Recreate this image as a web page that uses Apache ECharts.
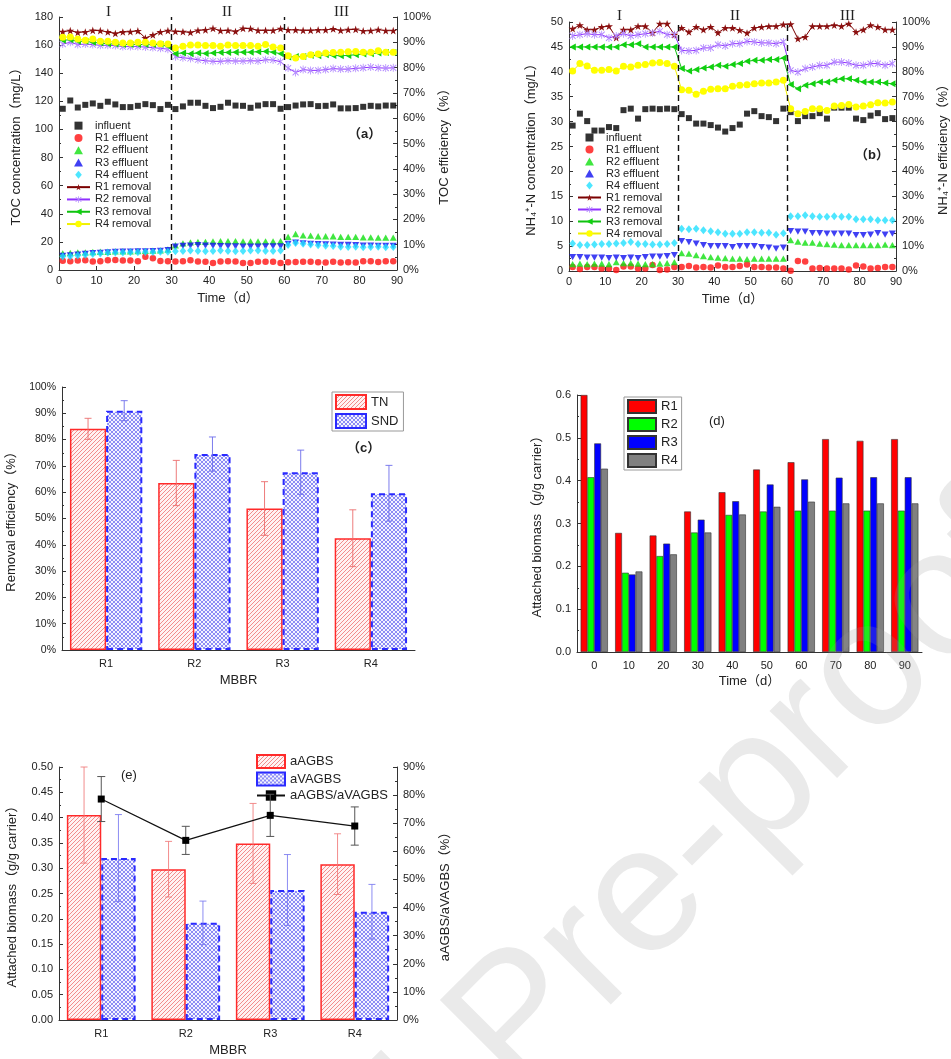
<!DOCTYPE html>
<html>
<head>
<meta charset="utf-8">
<script src="https://cdn.jsdelivr.net/npm/echarts@6/dist/echarts.min.js"></script>
<style>
  html, body { margin: 0; padding: 0; background: #fff; }
  #chart { width: 951px; height: 1059px; }
</style>
</head>
<body>
<div id="chart"></div>
<script>
// ---------- sampling days (panels a, b) ----------
const days = [1,3,5,7,9,11,13,15,17,19,21,23,25,27,29,31,33,35,37,39,41,43,45,47,49,51,53,55,57,59,61,63,65,67,69,71,73,75,77,79,81,83,85,87,89];

// ---------- (a) TOC, mg/L and % ----------
const tocInfluent = [114.7,120.6,115.6,117.5,118.5,116.8,119.7,117.8,115.9,115.9,116.8,118.0,117.3,114.5,117.5, 114.5,116.4,119.0,119.0,116.8,115.2,116.1,119.0,117.0,116.8,115.4,117.0,118.0,118.0,114.7, 115.9,117.0,117.8,118.0,116.6,116.8,117.8,115.0,115.0,115.2,116.1,116.8,116.4,117.0,117.0];
const tocR1Eff = [6.5,6.2,6.8,6.9,6.0,6.2,6.9,7.2,6.8,6.8,6.3,9.5,8.3,6.4,6.2, 6.0,6.2,6.9,6.0,5.9,4.9,6.0,6.3,6.0,5.0,5.0,5.8,5.9,5.8,5.0, 5.6,5.7,5.8,5.9,5.6,5.4,5.9,5.4,5.5,5.3,6.2,6.3,5.7,6.3,6.3];
const tocR2Eff = [11.8,12.2,12.6,12.6,12.8,13.0,13.0,13.2,13.3,13.3,13.5,13.6,13.8,14.0,14.6, 17.6,19.0,19.6,20.0,20.0,20.3,20.5,20.5,20.5,20.3,20.3,20.3,20.3,20.3,20.5, 23.6,25.6,24.6,24.5,24.0,24.0,24.0,23.6,23.6,23.5,23.2,23.2,23.0,23.0,23.0];
const tocR3Eff = [10.0,10.4,11.0,11.4,12.0,12.2,12.6,12.8,13.0,13.0,13.2,13.2,13.4,13.6,14.2, 16.6,17.2,17.4,17.6,17.4,17.2,17.0,16.8,16.8,16.6,16.6,16.6,16.8,16.8,16.8, 18.6,19.4,19.0,18.6,18.4,18.2,18.0,17.8,17.8,17.6,17.4,17.4,17.2,17.2,17.2];
const tocR4Eff = [9.6,9.8,10.4,10.8,11.4,11.8,12.2,12.4,12.4,12.6,12.6,12.8,12.8,13.0,13.0, 13.4,13.6,13.8,13.6,13.4,13.6,13.8,13.6,13.4,13.6,13.8,13.8,13.6,13.6,13.8, 17.8,19.2,18.6,18.2,17.6,17.2,17.0,16.6,16.4,16.6,16.2,16.4,16.6,16.2,16.4];
const tocR1Rem = [94.2,94.6,93.9,94.1,94.7,94.6,94.1,93.5,94.1,94.2,94.5,91.7,92.9,94.1,94.6, 94.3,94.2,93.9,94.7,94.9,95.5,94.6,94.7,94.3,95.5,95.4,94.7,94.7,94.7,95.4, 94.9,94.9,94.7,94.7,94.9,94.9,95.3,94.7,95.0,95.1,94.5,94.6,95.0,94.6,94.6];
const tocR2Rem = [89.3,90.0,89.1,89.3,89.1,88.8,88.8,88.7,88.3,88.3,88.3,88.1,87.9,87.6,87.3, 84.3,83.9,83.6,83.1,82.7,82.5,82.5,82.7,82.6,82.6,82.7,82.6,83.1,83.0,82.3, 79.8,78.1,79.2,78.9,78.9,79.2,79.6,79.4,79.4,79.7,79.9,80.2,79.9,79.8,79.9];
const tocR3Rem = [90.8,91.0,90.4,90.4,90.0,89.7,89.4,89.3,89.1,89.1,89.1,89.1,89.1,89.1,88.4, 85.5,85.8,85.5,85.8,85.6,85.8,86.0,86.0,86.1,86.1,86.1,86.3,86.4,86.1,85.5, 84.2,84.4,84.4,84.8,84.7,85.1,84.8,84.7,84.8,85.1,85.4,85.5,85.8,86.0,86.0];
const tocR4Rem = [92.0,92.1,91.3,90.8,91.3,90.4,90.4,90.0,89.7,89.7,90.0,90.0,89.7,89.4,89.3, 87.7,88.4,88.9,88.9,88.7,88.7,88.4,88.9,88.7,88.7,88.7,88.4,89.1,88.1,87.7, 84.7,83.8,84.4,85.1,85.4,85.8,86.0,86.1,86.3,86.4,86.1,86.1,86.7,86.1,86.1];

// ---------- (b) NH4+-N, mg/L and % ----------
const nhInfluent = [29.2,31.6,30.1,28.2,28.2,28.9,28.7,32.3,32.6,30.6,32.5,32.6,32.5,32.6,32.5, 31.5,30.7,29.6,29.6,29.3,28.8,28.0,28.7,29.4,31.6,32.1,31.1,30.9,30.1,32.6, 31.9,30.1,31.1,31.1,31.7,30.6,32.8,32.8,32.8,30.6,30.3,31.2,31.7,30.5,30.7];
const nhR1Eff = [0.8,0.4,0.8,0.8,0.5,0.5,0.2,0.9,0.9,0.5,0.5,1.2,0.2,0.3,0.8, 0.8,1.0,0.7,0.8,0.7,1.1,0.8,0.8,1.0,1.3,0.8,0.8,0.7,0.7,0.5, 0.05,2.0,1.9,0.5,0.6,0.5,0.5,0.5,0.3,1.1,0.9,0.5,0.6,0.8,0.8];
const nhR2Eff = [1.4,1.5,1.4,1.5,1.5,1.4,1.8,1.6,1.6,1.5,1.4,1.4,1.5,1.6,1.8, 3.6,3.5,3.2,3.0,2.8,2.7,2.6,2.5,2.5,2.4,2.5,2.5,2.5,2.5,2.5, 6.2,5.9,5.7,5.7,5.5,5.4,5.3,5.2,5.2,5.2,5.2,5.2,5.2,5.3,5.2];
const nhR3Eff = [2.8,2.8,2.7,2.7,2.7,2.6,2.7,2.6,2.7,2.6,2.8,2.9,2.9,3.0,3.2, 6.0,5.8,5.5,5.2,5.0,5.0,5.0,4.8,5.0,5.0,5.0,4.8,4.7,4.5,4.7, 8.0,7.9,7.9,7.6,7.6,7.5,7.5,7.5,7.5,7.2,7.2,7.3,7.6,7.3,7.5];
const nhR4Eff = [5.5,5.2,5.2,5.3,5.4,5.4,5.5,5.6,5.8,5.4,5.4,5.3,5.3,5.4,5.6, 8.5,8.4,8.5,8.2,8.0,7.8,7.5,7.5,7.5,7.8,7.8,7.7,7.7,7.3,7.6, 11.0,11.0,11.2,11.0,10.9,10.9,11.0,10.9,10.9,10.4,10.4,10.4,10.2,10.2,10.2];
const nhR1Rem = [97.3,98.7,96.9,96.9,98.0,98.3,93.7,96.9,96.9,98.3,98.3,95.7,99.3,99.3,94.9, 97.6,96.0,98.0,96.9,98.0,95.7,97.6,97.6,96.7,95.6,97.6,98.0,98.3,98.3,99.0, 99.1,93.3,94.0,98.3,98.3,98.3,98.7,98.3,99.3,96.0,96.9,98.7,98.0,96.9,96.9];
const nhR2Rem = [94.4,94.9,95.3,94.9,94.9,93.6,94.4,95.3,94.4,94.9,95.3,95.6,96.3,94.9,94.9, 88.6,88.4,88.6,89.6,89.6,90.9,90.4,91.3,91.3,92.2,92.0,91.6,91.6,91.3,92.0, 80.6,79.9,81.3,81.9,82.6,82.6,83.9,83.9,83.5,82.6,82.6,83.3,83.3,82.6,83.3];
const nhR3Rem = [90.0,90.0,90.0,90.0,90.0,90.0,90.0,90.9,90.9,91.3,90.0,90.0,90.0,90.0,90.0, 81.3,80.3,80.9,81.5,81.9,82.6,82.2,82.9,83.3,84.2,84.6,84.6,84.9,84.9,85.5, 74.9,73.2,74.6,75.2,75.9,75.9,76.6,77.2,77.2,76.6,75.9,75.9,75.9,75.5,75.2];
const nhR4Rem = [80.3,83.3,82.3,80.6,80.6,80.9,80.3,82.2,81.9,82.6,82.9,83.5,83.7,83.3,82.2, 72.8,72.6,71.0,72.2,73.0,73.2,73.2,74.2,74.6,74.8,75.2,75.5,75.5,75.9,76.6, 65.2,63.2,64.1,65.2,65.2,64.5,66.3,66.5,66.9,65.9,66.3,66.8,67.6,67.5,67.9];

// ---------- (c) TN removal and SND, % ----------
const reactors = ['R1','R2','R3','R4'];
const tnRemoval = [84.1, 63.5, 53.8, 42.5];
const tnErr = [4.0, 8.6, 10.2, 10.8];
const sndRate = [91.0, 74.5, 67.6, 59.6];
const sndErr = [3.8, 6.5, 8.4, 10.6];

// ---------- (d) attached biomass over time, g/g carrier ----------
const biomassDays = ['0','10','20','30','40','50','60','70','80','90'];
const biomassR1 = [0.600,0.278,0.272,0.328,0.373,0.426,0.443,0.497,0.493,0.497];
const biomassR2 = [0.408,0.185,0.224,0.279,0.320,0.328,0.330,0.330,0.330,0.330];
const biomassR3 = [0.487,0.181,0.253,0.309,0.352,0.391,0.403,0.407,0.408,0.408];
const biomassR4 = [0.428,0.188,0.228,0.279,0.321,0.339,0.351,0.347,0.347,0.347];

// ---------- (e) aAGBS, aVAGBS and their ratio ----------
const aAGBS = [0.405, 0.298, 0.349, 0.308];
const aAGBSErr = [0.095, 0.055, 0.079, 0.060];
const aVAGBS = [0.320, 0.192, 0.257, 0.214];
const aVAGBSErr = [0.086, 0.043, 0.070, 0.054];
const agbsRatio = [78.6, 63.9, 72.8, 69.0];
const agbsRatioErr = [8.0, 5.0, 7.5, 6.8];

// ---------- shared styling ----------
const FONT = '"Liberation Sans", Arial, "Noto Sans CJK SC", sans-serif';
const INK = '#222';

function hatchPattern() {
  const c = document.createElement('canvas');
  c.width = 4; c.height = 4;
  const g = c.getContext('2d');
  g.fillStyle = '#fff2f2'; g.fillRect(0, 0, 4, 4);
  g.strokeStyle = 'rgba(235,90,90,0.85)'; g.lineWidth = 0.8;
  g.beginPath();
  g.moveTo(-1, 1); g.lineTo(1, -1);
  g.moveTo(0, 4); g.lineTo(4, 0);
  g.moveTo(3, 5); g.lineTo(5, 3);
  g.stroke();
  return { image: c, repeat: 'repeat' };
}
function checkPattern() {
  const c = document.createElement('canvas');
  c.width = 4; c.height = 4;
  const g = c.getContext('2d');
  g.fillStyle = '#f4f4ff'; g.fillRect(0, 0, 4, 4);
  g.strokeStyle = 'rgba(80,80,240,0.8)'; g.lineWidth = 0.8;
  g.beginPath();
  g.moveTo(-1, 1); g.lineTo(1, -1);
  g.moveTo(0, 4); g.lineTo(4, 0);
  g.moveTo(3, 5); g.lineTo(5, 3);
  g.moveTo(-1, 3); g.lineTo(1, 5);
  g.moveTo(0, 0); g.lineTo(4, 4);
  g.moveTo(3, -1); g.lineTo(5, 1);
  g.stroke();
  return { image: c, repeat: 'repeat' };
}
const TN_FILL = hatchPattern();
const SND_FILL = checkPattern();

function valueAxis(extra) {
  return Object.assign({
    type: 'value',
    splitLine: { show: false },
    axisLine: { show: true, onZero: false, lineStyle: { color: '#333', width: 1 } },
    axisTick: { show: true, inside: true, length: 4, lineStyle: { color: '#333' } },
    minorTick: { show: true, splitNumber: 2, length: 2, lineStyle: { color: '#333' } },
    axisLabel: { color: INK, fontSize: 11, fontFamily: FONT, margin: 6 },
    nameLocation: 'middle',
    nameRotate: 90,
    nameTextStyle: { color: INK, fontSize: 13, fontFamily: FONT }
  }, extra);
}
function timeAxis(gridIndex) {
  return valueAxis({
    gridIndex, min: 0, max: 90, interval: 10,
    name: 'Time（d）', nameRotate: 0, nameGap: 22,
    minorTick: { show: false },
    axisLabel: { color: INK, fontSize: 11, fontFamily: FONT, margin: 5 }
  });
}
function catAxis(gridIndex, data, name, gap) {
  return {
    type: 'category', gridIndex, data,
    axisLine: { show: true, lineStyle: { color: '#333', width: 1 } },
    axisTick: { show: false },
    axisLabel: { color: INK, fontSize: 11, fontFamily: FONT, margin: 8 },
    name, nameLocation: 'middle', nameGap: gap,
    nameTextStyle: { color: INK, fontSize: 13, fontFamily: FONT }
  };
}

const pct = '{value}%';
// marker outlines (paths keep their aspect inside the legend too)
const SQUARE = 'path://M0,0 L10,0 L10,10 L0,10 Z';
const TRIANGLE = 'path://M5,0 L10,9 L0,9 Z';
const DIAMOND = 'path://M5,0 L10,6 L5,12 L0,6 Z';
const STAR = 'path://M50,0 L61,35 L98,35 L68,57 L79,91 L50,70 L21,91 L32,57 L2,35 L39,35 Z';
const ASTERISK = 'path://M0,1 L1,0 L10,9 L9,10 Z M9,0 L10,1 L1,10 L0,9 Z M4.4,-1 L5.6,-1 L5.6,11 L4.4,11 Z';

function pairs(arr) { return days.map((d, i) => [d, arr[i]]); }

function effluent(name, xi, yi, arr, symbol, size, color, rotate) {
  return {
    name, type: 'scatter', xAxisIndex: xi, yAxisIndex: yi,
    data: pairs(arr), symbol, symbolSize: size, symbolRotate: rotate || 0,
    symbolKeepAspect: true,
    itemStyle: { color }, z: 3
  };
}
function removal(name, xi, yi, arr, symbol, size, color, lineColor, rotate) {
  return {
    name, type: 'line', xAxisIndex: xi, yAxisIndex: yi,
    data: pairs(arr), symbol, symbolSize: size, symbolRotate: rotate || 0,
    symbolKeepAspect: true,
    showSymbol: true, showAllSymbol: true,
    lineStyle: { color: lineColor, width: 1 },
    itemStyle: { color },
    z: 4
  };
}
const divider = {
  silent: true, symbol: ['none', 'none'], label: { show: false },
  lineStyle: { color: '#111', type: [6, 4], width: 1.4 },
  data: [{ xAxis: 30 }, { xAxis: 60 }]
};

function timePanelSeries(xi, yL, yR, inf, e1, e2, e3, e4, r1, r2, r3, r4) {
  const infl = effluent('influent', xi, yL, inf, SQUARE, 6, '#000');
  infl.markLine = divider;
  return [
    infl,
    effluent('R1 effluent', xi, yL, e1, 'circle', 6.5, '#ff1010'),
    effluent('R2 effluent', xi, yL, e2, TRIANGLE, 7, '#10e010'),
    effluent('R3 effluent', xi, yL, e3, TRIANGLE, 7, '#1010f0', 180),
    effluent('R4 effluent', xi, yL, e4, DIAMOND, 8, '#20e0ff'),
    removal('R1 removal', xi, yR, r1, STAR, 8, '#8b1010', '#7a0000'),
    removal('R2 removal', xi, yR, r2, ASTERISK, 8, '#b48cff', '#9030ff'),
    removal('R3 removal', xi, yR, r3, TRIANGLE, 7, '#10d010', '#10c010', 90),
    removal('R4 removal', xi, yR, r4, 'circle', 7, '#ffff00', '#f0f000')
  ];
}

// error bars drawn through the category scale of a bar chart
function errorBars(xi, yi, vals, errs, color, slot, nSlots, catGap, capW, width) {
  return {
    type: 'custom', xAxisIndex: xi, yAxisIndex: yi, z: 5, silent: true,
    data: vals.map((v, i) => [i, v, errs[i]]),
    renderItem(params, api) {
      const ci = api.value(0), v = api.value(1), e = api.value(2);
      const band = api.size([1, 0])[0];
      const barW = band * (1 - catGap) / nSlots;
      const cx = api.coord([ci, v])[0] + (slot - (nSlots - 1) / 2) * barW;
      const yt = api.coord([ci, v + e])[1];
      const yb = api.coord([ci, v - e])[1];
      const st = { stroke: color, lineWidth: width };
      return {
        type: 'group', children: [
          { type: 'line', shape: { x1: cx, y1: yt, x2: cx, y2: yb }, style: st },
          { type: 'line', shape: { x1: cx - capW / 2, y1: yt, x2: cx + capW / 2, y2: yt }, style: st },
          { type: 'line', shape: { x1: cx - capW / 2, y1: yb, x2: cx + capW / 2, y2: yb }, style: st }
        ]
      };
    }
  };
}

const tnStyle = { color: TN_FILL, borderColor: '#ff2a2a', borderWidth: 1.5 };
const sndStyle = { color: SND_FILL, borderColor: '#2a2aff', borderWidth: 2, borderType: [6, 4] };
const STAMP_FONT = '180px "Liberation Sans", Arial, sans-serif';
const STAMP_FILL = 'rgba(150,150,150,0.2)';

const option = {
  animation: false,
  backgroundColor: '#fff',
  textStyle: { fontFamily: FONT },
  grid: [
    { left: 59, top: 17, width: 338, height: 253 },
    { left: 569, top: 22, width: 333, height: 249 },
    { left: 62, top: 387, width: 353, height: 263 },
    { left: 577, top: 395, width: 345, height: 257 },
    { left: 59, top: 767, width: 338, height: 253 }
  ],
  xAxis: [
    timeAxis(0),
    timeAxis(1),
    catAxis(2, reactors, 'MBBR', 24),
    catAxis(3, biomassDays, 'Time（d）', 23),
    catAxis(4, reactors, 'MBBR', 24)
  ],
  yAxis: [
    valueAxis({ gridIndex: 0, min: 0, max: 180, interval: 20, name: 'TOC concentration（mg/L）', nameGap: 36 }),
    valueAxis({ gridIndex: 0, min: 0, max: 100, interval: 10, position: 'right', axisLabel: { formatter: pct, color: INK, fontSize: 11, fontFamily: FONT, margin: 6 }, name: 'TOC efficiency（%）', nameGap: 41 }),
    valueAxis({ gridIndex: 1, min: 0, max: 50, interval: 5, name: 'NH₄⁺-N concentration（mg/L）', nameGap: 31 }),
    valueAxis({ gridIndex: 1, min: 0, max: 100, interval: 10, position: 'right', axisLabel: { formatter: pct, color: INK, fontSize: 11, fontFamily: FONT, margin: 6 }, name: 'NH₄⁺-N efficiency（%）', nameGap: 41 }),
    valueAxis({ gridIndex: 2, min: 0, max: 100, interval: 10, axisLabel: { formatter: pct, color: INK, fontSize: 10.5, fontFamily: FONT, margin: 6 }, name: 'Removal efficiency（%）', nameGap: 44 }),
    valueAxis({ gridIndex: 3, min: 0, max: 0.6, interval: 0.1, axisLabel: { formatter: v => v.toFixed(1), color: INK, fontSize: 11, fontFamily: FONT, margin: 6 }, name: 'Attached biomass（g/g carrier）', nameGap: 33 }),
    valueAxis({ gridIndex: 4, min: 0, max: 0.5, interval: 0.05, axisLabel: { formatter: v => v.toFixed(2), color: INK, fontSize: 11, fontFamily: FONT, margin: 6 }, name: 'Attached biomass（g/g carrier）', nameGap: 40 }),
    valueAxis({ gridIndex: 4, min: 0, max: 90, interval: 10, position: 'right', axisLabel: { formatter: pct, color: INK, fontSize: 11, fontFamily: FONT, margin: 6 }, name: 'aAGBS/aVAGBS（%）', nameGap: 42 })
  ],
  legend: [
    {
      orient: 'vertical', left: 66, top: 120, padding: 0,
      itemWidth: 23, itemHeight: 8, itemGap: 1, symbolKeepAspect: true,
      textStyle: { fontSize: 11, lineHeight: 11.3, color: INK, fontFamily: FONT },
      data: ['influent','R1 effluent','R2 effluent','R3 effluent','R4 effluent','R1 removal','R2 removal','R3 removal','R4 removal']
    },
    {
      orient: 'vertical', left: 577, top: 132, padding: 0,
      itemWidth: 23, itemHeight: 8, itemGap: 1, symbolKeepAspect: true,
      textStyle: { fontSize: 11, lineHeight: 11, color: INK, fontFamily: FONT },
      data: ['influent','R1 effluent','R2 effluent','R3 effluent','R4 effluent','R1 removal','R2 removal','R3 removal','R4 removal']
    },
    {
      orient: 'vertical', left: 332, top: 392, padding: [2, 5, 2, 3],
      borderColor: '#999', borderWidth: 1,
      itemWidth: 30, itemHeight: 14, itemGap: 3,
      textStyle: { fontSize: 13, color: INK, fontFamily: FONT },
      data: [{ name: 'TN', icon: 'rect' }, { name: 'SND', icon: 'rect' }]
    },
    {
      orient: 'vertical', left: 624, top: 397, padding: [2, 4, 2, 3],
      borderColor: '#999', borderWidth: 1,
      itemWidth: 28, itemHeight: 13, itemGap: 3,
      textStyle: { fontSize: 13, color: INK, fontFamily: FONT },
      data: [{ name: 'R1', icon: 'rect' }, { name: 'R2', icon: 'rect' }, { name: 'R3', icon: 'rect' }, { name: 'R4', icon: 'rect' }]
    },
    {
      orient: 'vertical', left: 256, top: 754, padding: 0,
      itemWidth: 28, itemHeight: 13, itemGap: 2.5,
      textStyle: { fontSize: 13, color: INK, fontFamily: FONT },
      data: [{ name: 'aAGBS', icon: 'rect' }, { name: 'aVAGBS', icon: 'rect' }, 'aAGBS/aVAGBS']
    }
  ],
  series: [
    ...timePanelSeries(0, 0, 1, tocInfluent, tocR1Eff, tocR2Eff, tocR3Eff, tocR4Eff, tocR1Rem, tocR2Rem, tocR3Rem, tocR4Rem),
    ...timePanelSeries(1, 2, 3, nhInfluent, nhR1Eff, nhR2Eff, nhR3Eff, nhR4Eff, nhR1Rem, nhR2Rem, nhR3Rem, nhR4Rem),

    // (c)
    { name: 'TN', type: 'bar', xAxisIndex: 2, yAxisIndex: 4, data: tnRemoval, barGap: 0, barCategoryGap: '18%', itemStyle: tnStyle, z: 2 },
    { name: 'SND', type: 'bar', xAxisIndex: 2, yAxisIndex: 4, data: sndRate, barGap: 0, barCategoryGap: '18%', itemStyle: sndStyle, z: 2 },
    errorBars(2, 4, tnRemoval, tnErr, 'rgba(235,110,110,0.9)', 0, 2, 0.18, 7, 1),
    errorBars(2, 4, sndRate, sndErr, 'rgba(110,110,235,0.9)', 1, 2, 0.18, 7, 1),

    // (d)
    { name: 'R1', type: 'bar', xAxisIndex: 3, yAxisIndex: 5, data: biomassR1, barGap: 0, barCategoryGap: '21%', itemStyle: { color: '#ff0000', borderColor: '#333', borderWidth: 0.6 } },
    { name: 'R2', type: 'bar', xAxisIndex: 3, yAxisIndex: 5, data: biomassR2, barGap: 0, barCategoryGap: '21%', itemStyle: { color: '#00ff00', borderColor: '#333', borderWidth: 0.6 } },
    { name: 'R3', type: 'bar', xAxisIndex: 3, yAxisIndex: 5, data: biomassR3, barGap: 0, barCategoryGap: '21%', itemStyle: { color: '#0000ff', borderColor: '#333', borderWidth: 0.6 } },
    { name: 'R4', type: 'bar', xAxisIndex: 3, yAxisIndex: 5, data: biomassR4, barGap: 0, barCategoryGap: '21%', itemStyle: { color: '#808080', borderColor: '#333', borderWidth: 0.6 } },

    // (e)
    { name: 'aAGBS', type: 'bar', xAxisIndex: 4, yAxisIndex: 6, data: aAGBS, barGap: 0, barCategoryGap: '18.6%', itemStyle: tnStyle, z: 2 },
    { name: 'aVAGBS', type: 'bar', xAxisIndex: 4, yAxisIndex: 6, data: aVAGBS, barGap: 0, barCategoryGap: '18.6%', itemStyle: sndStyle, z: 2 },
    errorBars(4, 6, aAGBS, aAGBSErr, 'rgba(240,120,120,0.85)', 0, 2, 0.186, 7, 1),
    errorBars(4, 6, aVAGBS, aVAGBSErr, 'rgba(120,120,240,0.85)', 1, 2, 0.186, 7, 1),
    { name: 'aAGBS/aVAGBS', type: 'line', xAxisIndex: 4, yAxisIndex: 7, data: agbsRatio, symbol: SQUARE, symbolSize: 7, symbolKeepAspect: true, lineStyle: { color: '#111', width: 1.2 }, itemStyle: { color: '#000' }, z: 6 },
    errorBars(4, 7, agbsRatio, agbsRatioErr, '#555', 0, 1, 0.186, 8, 1)
  ],
  graphic: [
    // phase numerals above the time panels
    { type: 'text', left: 106, top: 5, style: { text: 'I', font: '15px "Liberation Serif", serif', fill: INK } },
    { type: 'text', left: 222, top: 5, style: { text: 'II', font: '15px "Liberation Serif", serif', fill: INK } },
    { type: 'text', left: 334, top: 5, style: { text: 'III', font: '15px "Liberation Serif", serif', fill: INK } },
    { type: 'text', left: 617, top: 9, style: { text: 'I', font: '15px "Liberation Serif", serif', fill: INK } },
    { type: 'text', left: 730, top: 9, style: { text: 'II', font: '15px "Liberation Serif", serif', fill: INK } },
    { type: 'text', left: 840, top: 9, style: { text: 'III', font: '15px "Liberation Serif", serif', fill: INK } },
    // panel tags
    { type: 'text', left: 348, top: 128, style: { text: '（a）', font: 'bold 13px "Liberation Sans", "Noto Sans CJK SC", sans-serif', fill: INK } },
    { type: 'text', left: 855, top: 149, style: { text: '（b）', font: 'bold 13px "Liberation Sans", "Noto Sans CJK SC", sans-serif', fill: INK } },
    { type: 'text', left: 347, top: 442, style: { text: '（c）', font: 'bold 13px "Liberation Sans", "Noto Sans CJK SC", sans-serif', fill: INK } },
    { type: 'text', left: 709, top: 415, style: { text: '(d)', font: '13px "Liberation Sans", sans-serif', fill: INK } },
    { type: 'text', left: 121, top: 769, style: { text: '(e)', font: '13px "Liberation Sans", sans-serif', fill: INK } },
    // journal stamp across the lower right
    {
      type: 'group', x: 482, y: 1063, rotation: 45 * Math.PI / 180, silent: true, z: 100,
      children: [
        { type: 'text', x: 0, y: 0, z: 100, style: { text: 'Pre-proof', font: STAMP_FONT, fill: STAMP_FILL, textAlign: 'left', textVerticalAlign: 'middle' } },
        { type: 'text', x: 0, y: 0, z: 100, style: { text: 'Journal ', font: STAMP_FONT, fill: STAMP_FILL, textAlign: 'right', textVerticalAlign: 'middle' } }
      ]
    }
  ]
};

const chart = echarts.init(document.getElementById('chart'), null, { renderer: 'canvas' });
chart.setOption(option);
</script>
</body>
</html>
